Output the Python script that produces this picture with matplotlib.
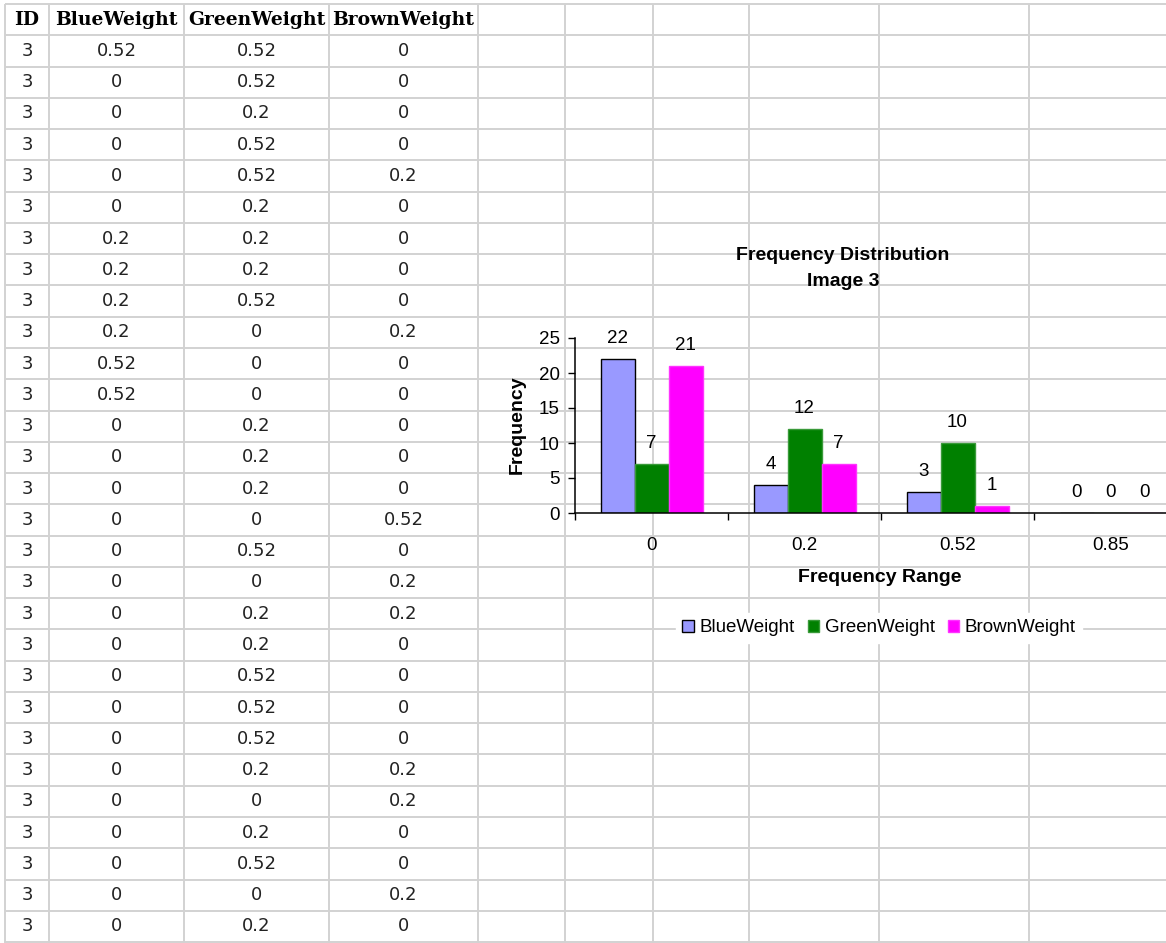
import matplotlib
matplotlib.use("Agg")
import matplotlib.pyplot as plt
from matplotlib.patches import Patch

plt.rcParams['font.family'] = ['Liberation Sans', 'DejaVu Sans']

# sheet data (image 3)
ids = [3] * 29
blue_weight = [0.52, 0, 0, 0, 0, 0, 0.2, 0.2, 0.2, 0.2, 0.52, 0.52, 0, 0, 0,
               0, 0, 0, 0, 0, 0, 0, 0, 0, 0, 0, 0, 0, 0]
green_weight = [0.52, 0.52, 0.2, 0.52, 0.52, 0.2, 0.2, 0.2, 0.52, 0, 0, 0, 0.2, 0.2, 0.2,
                0, 0.52, 0, 0.2, 0.2, 0.52, 0.52, 0.52, 0.2, 0, 0.2, 0.52, 0, 0.2]
brown_weight = [0, 0, 0, 0, 0.2, 0, 0, 0, 0, 0.2, 0, 0, 0, 0, 0,
                0.52, 0, 0.2, 0.2, 0, 0, 0, 0, 0.2, 0.2, 0, 0, 0.2, 0]
headers = ["ID", "BlueWeight", "GreenWeight", "BrownWeight"]

# frequency table shown in the chart
bins = ["0", "0.2", "0.52", "0.85"]
blue_freq = [22, 4, 3, 0]
green_freq = [7, 12, 10, 0]
brown_freq = [21, 7, 1, 0]
series_names = ["BlueWeight", "GreenWeight", "BrownWeight"]

W, H = 1166, 943
fig = plt.figure(figsize=(W / 100, H / 100), dpi=100)
fig.patch.set_facecolor("white")


def fx(x):
    return x / W


def fy(y):
    return 1 - y / H


# --- worksheet grid ---
sheet = fig.add_axes([0, 0, 1, 1])
sheet.set_xlim(0, W)
sheet.set_ylim(H, 0)
sheet.axis("off")
grid_color = "#d2d2d2"
col_edges = [5, 49, 184, 329, 478, 565, 653, 749, 879, 1029]
row_h = 31.27
top = 4
for x in col_edges:
    sheet.plot([x, x], [top, H], color=grid_color, lw=1.4, solid_capstyle="butt")
for k in range(31):
    y = top + k * row_h
    sheet.plot([5, W], [y, y], color=grid_color, lw=1.4, solid_capstyle="butt")

col_centers = [(col_edges[i] + col_edges[i + 1]) / 2 for i in range(4)]
for c, h in zip(col_centers, headers):
    sheet.text(c, top + row_h / 2, h, ha="center", va="center", fontsize=13.5,
               fontweight="bold", family="DejaVu Serif", color="#000000")
for r in range(len(ids)):
    yc = top + row_h * (r + 1.5)
    vals = [ids[r], blue_weight[r], green_weight[r], brown_weight[r]]
    for c, v in zip(col_centers, vals):
        sheet.text(c, yc, f"{v:g}", ha="center", va="center", fontsize=13,
                   family="DejaVu Sans", color="#222222")

# --- chart ---
x0, x_end, y_base, y_top = 575, 1187, 513, 338
ax = fig.add_axes([fx(x0), fy(y_base), (x_end - x0) / W, (y_base - y_top) / H])
ax.set_facecolor("none")
ax.set_zorder(3)

bw = 1 / 4.5
colors = ["#9999ff", "#008000", "#ff00ff"]
edges = ["black", "#3a9a3a", "#ff33ff"]
for j, (vals, col, ec) in enumerate(zip([blue_freq, green_freq, brown_freq], colors, edges)):
    xs = [i + 0.5 + (j - 1) * bw for i in range(len(bins))]
    ax.bar(xs, vals, width=bw, color=col, edgecolor=ec, linewidth=1, zorder=2)
    for xv, v in zip(xs, vals):
        ax.annotate(str(v), (xv, v), xytext=(0, 15), textcoords="offset points",
                    ha="center", va="center", fontsize=13.5, annotation_clip=False)

ax.set_xlim(0, 4)
ax.set_ylim(0, 25)
ax.set_yticks(range(0, 26, 5))
ax.set_xticks([0, 1, 2, 3, 4])
ax.set_xticklabels([])
ax.set_xticks([0.5, 1.5, 2.5, 3.5], minor=True)
ax.set_xticklabels(bins, minor=True)
ax.tick_params(axis="y", direction="out", length=5, width=1, labelsize=13.5, pad=6)
ax.tick_params(axis="x", which="major", direction="out", length=5, width=1)
ax.tick_params(axis="x", which="minor", length=0, labelsize=13.5, pad=17)
for s in ["top", "right"]:
    ax.spines[s].set_visible(False)
for s in ["left", "bottom"]:
    ax.spines[s].set_linewidth(1.1)

fig.text(fx(843), fy(256), "Frequency Distribution", ha="center", va="center",
         fontsize=14, fontweight="bold")
fig.text(fx(843), fy(281), "Image 3", ha="center", va="center",
         fontsize=14, fontweight="bold")
fig.text(fx(517), fy(425), "Frequency", ha="center", va="center", rotation=90,
         fontsize=14, fontweight="bold")
fig.text(fx(880), fy(577), "Frequency Range", ha="center", va="center",
         fontsize=14, fontweight="bold")

handles = [Patch(facecolor=c, edgecolor=e, linewidth=1) for c, e in zip(colors, edges)]
leg = fig.legend(handles, series_names, loc="center", bbox_to_anchor=(fx(879), fy(628)),
                 ncol=3, fontsize=13.5, frameon=True, fancybox=False,
                 handlelength=0.6, handleheight=0.6, handletextpad=0.3,
                 columnspacing=0.7, borderpad=0.35)
leg.get_frame().set_facecolor("white")
leg.get_frame().set_edgecolor("white")
leg.get_frame().set_alpha(1)
leg.set_zorder(5)

fig.savefig("out.png", dpi=100, facecolor="white")
